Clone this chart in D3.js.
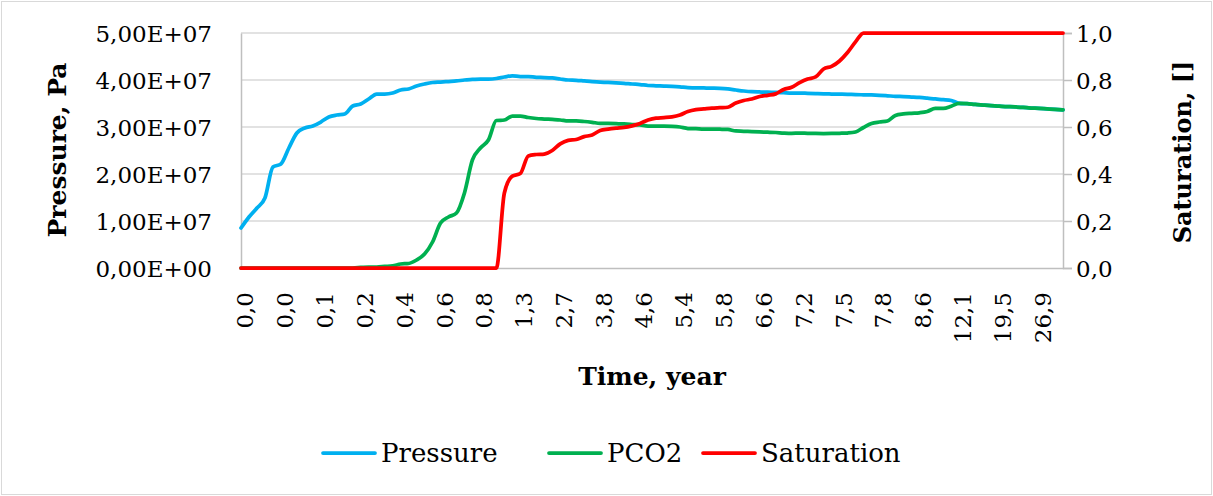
<!DOCTYPE html>
<html>
<head>
<meta charset="utf-8">
<script src="https://cdn.jsdelivr.net/npm/d3@7"></script>
<style>
  body { margin: 0; background: #fff; }
  svg text { font-family: "DejaVu Serif", "Liberation Serif", serif; fill: #000; }
</style>
</head>
<body>
<svg id="chart" width="1213" height="496"></svg>
<script>
// Time labels shown on the category axis (every 5th sample)
const timeLabels = ["0,0","0,0","0,1","0,2","0,4","0,6","0,8","1,3","2,7","3,8","4,6",
                    "5,4","5,8","6,6","7,2","7,5","7,8","8,6","12,1","19,5","26,9"];
const labelEvery = 5;

// Pressure, Pa (listed in units of 1e6 Pa)
const pressure = [
  8.51, 10.85, 12.77, 14.89, 21.49, 22.13, 25.53, 28.72, 29.79, 30.21,
  31.06, 32.13, 32.55, 32.77, 34.47, 34.89, 35.96, 37.02, 37.02, 37.23,
  37.87, 38.09, 38.72, 39.15, 39.47, 39.57, 39.68, 39.79, 40.00, 40.11,
  40.21, 40.21, 40.32, 40.64, 40.90, 40.74, 40.74, 40.57, 40.53, 40.43,
  40.21, 40.00, 39.94, 39.79, 39.64, 39.57, 39.47, 39.40, 39.30, 39.15,
  39.04, 38.83, 38.77, 38.72, 38.66, 38.55, 38.36, 38.34, 38.30, 38.26,
  38.21, 38.09, 37.87, 37.66, 37.51, 37.45, 37.40, 37.38, 37.30, 37.23,
  37.23, 37.17, 37.11, 37.06, 37.02, 36.98, 36.94, 36.89, 36.85, 36.81,
  36.74, 36.64, 36.53, 36.47, 36.38, 36.28, 36.13, 35.96, 35.83, 35.64,
  35.04, 34.96, 34.79, 34.68, 34.57, 34.43, 34.34, 34.26, 34.15, 34.04,
  33.96, 33.85, 33.74, 33.66
].map(v => v * 1e6);

// CO2 partial pressure, Pa (listed in units of 1e6 Pa)
const pco2 = [
  0, 0, 0, 0, 0, 0, 0, 0, 0, 0,
  0, 0, 0, 0, 0, 0.11, 0.21, 0.21, 0.32, 0.43,
  0.85, 0.96, 1.70, 2.98, 5.53, 9.57, 10.85, 11.70, 15.96, 22.98,
  25.53, 27.23, 31.38, 31.49, 32.34, 32.34, 32.02, 31.81, 31.70, 31.60,
  31.49, 31.28, 31.28, 31.17, 31.00, 30.79, 30.79, 30.74, 30.64, 30.53,
  30.43, 30.21, 30.21, 30.21, 30.15, 30.00, 29.68, 29.64, 29.57, 29.57,
  29.53, 29.47, 29.15, 29.09, 29.00, 28.94, 28.89, 28.83, 28.72, 28.66,
  28.72, 28.66, 28.62, 28.60, 28.62, 28.66, 28.72, 28.94, 29.89, 30.74,
  31.06, 31.28, 32.45, 32.77, 32.91, 33.02, 33.30, 33.98, 33.98, 34.43,
  35.04, 34.96, 34.79, 34.68, 34.57, 34.43, 34.34, 34.26, 34.15, 34.04,
  33.96, 33.85, 33.74, 33.66
].map(v => v * 1e6);

// CO2 saturation, fraction
const saturation = [
  0, 0, 0, 0, 0, 0, 0, 0, 0, 0,
  0, 0, 0, 0, 0, 0, 0, 0, 0, 0,
  0, 0, 0, 0, 0, 0, 0, 0, 0, 0,
  0, 0, 0, 0.319, 0.391, 0.402, 0.477, 0.483, 0.485, 0.500,
  0.528, 0.543, 0.547, 0.559, 0.566, 0.585, 0.591, 0.595, 0.598, 0.605,
  0.615, 0.630, 0.638, 0.640, 0.643, 0.651, 0.666, 0.674, 0.677, 0.680,
  0.682, 0.684, 0.702, 0.713, 0.719, 0.730, 0.735, 0.741, 0.760, 0.769,
  0.789, 0.804, 0.813, 0.847, 0.858, 0.881, 0.917, 0.962, 1, 1,
  1, 1, 1, 1, 1, 1, 1, 1, 1, 1,
  1, 1, 1, 1, 1, 1, 1, 1, 1, 1,
  1, 1, 1, 1
];

const pressureTicks = [0, 1e7, 2e7, 3e7, 4e7, 5e7];
const saturationTicks = [0, 0.2, 0.4, 0.6, 0.8, 1.0];

const colors = { pressure: "#00b0f0", pco2: "#00b050", saturation: "#ff0000" };

const W = 1213, H = 496;
const plot = { left: 241, right: 1063, top: 33, bottom: 268 };

const svg = d3.select("#chart");

// chart frame
svg.append("rect")
  .attr("x", 1.5).attr("y", 1.5).attr("width", W - 3).attr("height", H - 3)
  .attr("fill", "#fff").attr("stroke", "#d9d9d9").attr("stroke-width", 1);

const idx = d3.range(pressure.length);
const x = d3.scalePoint().domain(idx).range([plot.left, plot.right]);
const yL = d3.scaleLinear().domain([0, 5e7]).range([plot.bottom, plot.top]);
const yR = d3.scaleLinear().domain([0, 1]).range([plot.bottom, plot.top]);

// number formats with decimal comma
const sciFmt = v => {
  const [m, e] = v.toExponential(2).split("e");
  const ex = Math.abs(+e);
  return m.replace(".", ",") + "E" + (+e < 0 ? "-" : "+") + (ex < 10 ? "0" : "") + ex;
};
const fracFmt = v => d3.format(".1f")(v).replace(".", ",");

// horizontal gridlines
svg.append("g").selectAll("line").data(pressureTicks.slice(1)).join("line")
  .attr("x1", plot.left).attr("x2", plot.right)
  .attr("y1", d => yL(d)).attr("y2", d => yL(d))
  .attr("stroke", "#d9d9d9").attr("stroke-width", 1.5);

// left axis
const gL = svg.append("g").attr("transform", `translate(${plot.left},0)`)
  .call(d3.axisLeft(yL).tickValues(pressureTicks).tickFormat(sciFmt).tickSize(0).tickPadding(29));
gL.select(".domain").attr("stroke", "#bfbfbf").attr("stroke-width", 1.5);
gL.selectAll("text").style("font-size", "23px").attr("dy", "0.36em");

// right axis
const gR = svg.append("g").attr("transform", `translate(${plot.right},0)`)
  .call(d3.axisRight(yR).tickValues(saturationTicks).tickFormat(fracFmt).tickSize(9).tickPadding(4));
gR.select(".domain").attr("stroke", "#bfbfbf").attr("stroke-width", 1.5);
gR.selectAll(".tick line").attr("stroke", "#bfbfbf").attr("stroke-width", 1.5);
gR.selectAll("text").style("font-size", "23px").attr("dy", "0.36em");

// bottom axis (category labels every 5th sample)
const labelIdx = timeLabels.map((_, k) => k * labelEvery);
const gB = svg.append("g").attr("transform", `translate(0,${plot.bottom})`)
  .call(d3.axisBottom(x).tickValues(labelIdx)
    .tickFormat(i => timeLabels[i / labelEvery]).tickSize(0).tickPadding(0));
gB.select(".domain").attr("stroke", "#bfbfbf").attr("stroke-width", 1.5);
gB.selectAll("text")
  .style("font-size", "23px")
  .attr("text-anchor", "end")
  .attr("transform", "rotate(-90)")
  .attr("x", -24).attr("y", 0).attr("dy", "0.5em");

// series lines
const series = [
  { key: "pressure", name: "Pressure", values: pressure, y: yL },
  { key: "pco2", name: "PCO2", values: pco2, y: yL },
  { key: "saturation", name: "Saturation", values: saturation, y: yR }
];
series.forEach(s => {
  const line = d3.line().x((d, i) => x(i)).y(d => s.y(d)).curve(d3.curveMonotoneX);
  svg.append("path").datum(s.values)
    .attr("d", line)
    .attr("fill", "none")
    .attr("stroke", colors[s.key])
    .attr("stroke-width", 3.75)
    .attr("stroke-linejoin", "round")
    .attr("stroke-linecap", "round");
});

// axis titles
svg.append("text").attr("transform", "translate(66,150) rotate(-90)")
  .attr("text-anchor", "middle").style("font-size", "25px").style("font-weight", "bold")
  .text("Pressure, Pa");
svg.append("text").attr("transform", "translate(1191,152) rotate(-90)")
  .attr("text-anchor", "middle").style("font-size", "24px").style("font-weight", "bold")
  .text("Saturation, []");
svg.append("text").attr("x", 652).attr("y", 385)
  .attr("text-anchor", "middle").style("font-size", "25px").style("font-weight", "bold")
  .text("Time, year");

// legend
const legendPos = [323, 549, 703];
const lg = svg.append("g");
series.forEach((s, k) => {
  const g = lg.append("g").attr("transform", `translate(${legendPos[k]},453)`);
  g.append("line").attr("x1", 0).attr("x2", 52).attr("y1", 0).attr("y2", 0)
    .attr("stroke", colors[s.key]).attr("stroke-width", 3.75).attr("stroke-linecap", "round");
  g.append("text").attr("x", 58).attr("y", 0).attr("dy", "0.35em")
    .style("font-size", "26px").text(s.name);
});
</script>
</body>
</html>
